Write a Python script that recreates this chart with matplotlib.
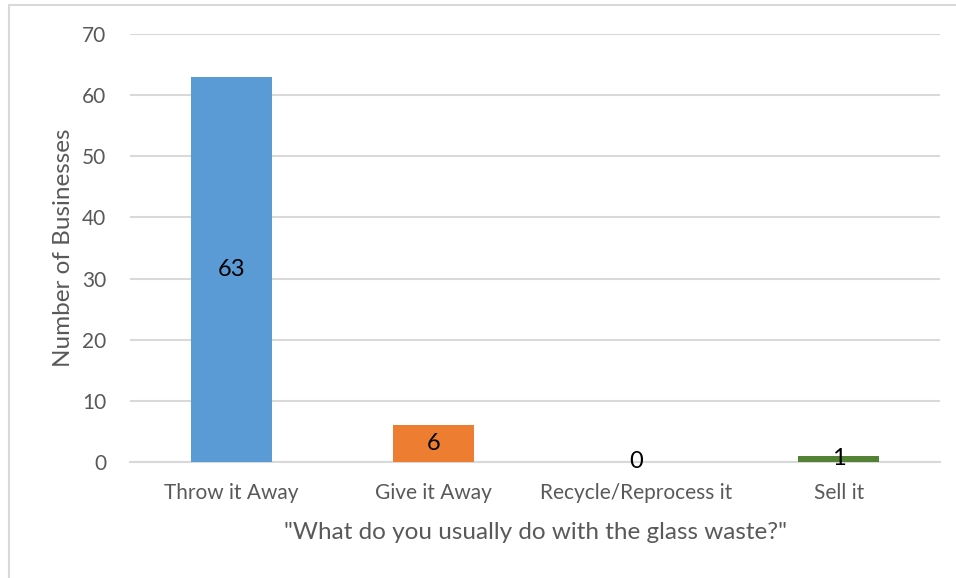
import matplotlib
matplotlib.use("Agg")
import matplotlib.pyplot as plt
from matplotlib.patches import Rectangle

categories = ["Throw it Away", "Give it Away", "Recycle/Reprocess it", "Sell it"]
values = [63, 6, 0, 1]
colors = ["#5B9BD5", "#ED7D31", "#A5A5A5", "#548235"]
yticks = [0, 10, 20, 30, 40, 50, 60, 70]

plt.rcParams['font.family'] = ['Lato', 'DejaVu Sans']

fig = plt.figure(figsize=(9.56, 5.78), dpi=100)
ax = fig.add_axes([130/956, 1-462/578, 810/956, 428/578])

x = list(range(len(categories)))
bars = ax.bar(x, values, width=0.4, color=colors, zorder=3)
ax.set_xlim(-0.5, len(categories)-0.5)
ax.set_ylim(0, 70)
ax.set_yticks(yticks)
ax.set_xticks(x)
ax.set_xticklabels(categories)
ax.tick_params(axis='both', length=0, labelsize=15, colors="#595959")
ax.tick_params(axis='y', pad=17)
ax.tick_params(axis='x', pad=15)
for s in ["top", "right", "left"]:
    ax.spines[s].set_visible(False)
ax.spines["bottom"].set_color("#D9D9D9")
ax.spines["bottom"].set_linewidth(1.5)
ax.grid(axis='y', color="#D9D9D9", linewidth=1.5, zorder=0)
ax.set_axisbelow(True)

for xi, v in zip(x, values):
    ax.text(xi, v/2, str(v), ha='center', va='center', fontsize=17, color='black', zorder=4)

ax.set_ylabel("Number of Businesses", fontsize=17.5, color="#595959", labelpad=6)
ax.set_xlabel("\"What do you usually do with the glass waste?\"", fontsize=17.5, color="#595959", labelpad=14)

# outer frame
fig.patches.append(Rectangle((9/956, -0.1), 1.2, (1-5/578)+0.1, transform=fig.transFigure,
                             fill=False, edgecolor="#D9D9D9", linewidth=1.5))

fig.savefig("out.png", dpi=100)
